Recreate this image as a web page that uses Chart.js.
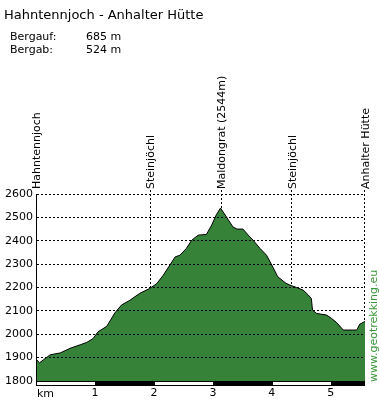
<!DOCTYPE html>
<html>
<head>
<meta charset="utf-8">
<title>Hahntennjoch - Anhalter Hütte</title>
<script src="https://cdn.jsdelivr.net/npm/chart.js@4.4.0/dist/chart.umd.min.js"></script>
<style>
body { margin: 0; background: #fff; }
canvas { display: block; }
</style>
</head>
<body>
<canvas id="perfil" width="379" height="404"></canvas>
<script>
var titulo = "Hahntennjoch - Anhalter Hütte";
var resumenNombres = ["Bergauf:", "Bergab:"];
var resumenValores = ["685 m", "524 m"];

// km / Höhe (m)
var distancia = [0, 0.06, 0.24, 0.41, 0.58, 0.75, 0.86, 0.97, 1.05, 1.20, 1.34, 1.45, 1.59, 1.76, 1.93,
    2.05, 2.16, 2.27, 2.36, 2.44, 2.55, 2.64, 2.75, 2.89, 2.98, 3.06, 3.13, 3.23, 3.34, 3.41, 3.51,
    3.60, 3.68, 3.80, 3.91, 4.00, 4.10, 4.24, 4.31, 4.42, 4.53, 4.61, 4.67, 4.69, 4.76, 4.93,
    5.01, 5.10, 5.21, 5.44, 5.49, 5.58];
var altura = [1893, 1878, 1912, 1920, 1940, 1955, 1965, 1982, 2010, 2034, 2092, 2125, 2145, 2175, 2196,
    2217, 2253, 2296, 2331, 2338, 2367, 2402, 2424, 2427, 2467, 2512, 2540, 2502, 2459, 2450, 2450,
    2424, 2403, 2367, 2338, 2296, 2246, 2218, 2210, 2200, 2189, 2170, 2153, 2103, 2089, 2082,
    2068, 2050, 2018, 2018, 2043, 2055];

var puntosNombres = ["Hahntennjoch", "Steinjöchl", "Maldongrat (2544m)", "Steinjöchl", "Anhalter Hütte"];
var puntosKm = [0, 1.93, 3.14, 4.33, 5.58];

var ticksAltura = [1800, 1900, 2000, 2100, 2200, 2300, 2400, 2500, 2600];
var ticksKm = [0, 1, 2, 3, 4, 5];
var etiquetasKm = ["km", "1", "2", "3", "4", "5"];
var webTexto = "www.geotrekking.eu";

var fuente = "'DejaVu Sans', sans-serif";

var extras = {
    id: 'extras',
    beforeDatasetsDraw: function(chart)
    {
        var ctx = chart.ctx;
        var area = chart.chartArea;
        var sx = chart.scales.x;
        ctx.save();
        ctx.strokeStyle = '#000';
        ctx.lineWidth = 1;
        ctx.setLineDash([2, 2]);
        for (var i = 1; i < puntosKm.length; i++) {
            var px = Math.round(sx.getPixelForValue(puntosKm[i])) + 0.5;
            if (px > area.right) px = area.right - 0.5;
            ctx.beginPath();
            ctx.moveTo(px, area.top - 4);
            ctx.lineTo(px, area.bottom);
            ctx.stroke();
        }
        ctx.restore();
    },
    afterDraw: function(chart)
    {
        var ctx = chart.ctx;
        var area = chart.chartArea;
        var sx = chart.scales.x;
        ctx.save();

        // titulo y resumen
        ctx.fillStyle = '#000';
        ctx.textBaseline = 'alphabetic';
        ctx.textAlign = 'left';
        ctx.font = '13px ' + fuente;
        ctx.fillText(titulo, 4, 19);
        ctx.font = '11px ' + fuente;
        for (var r = 0; r < resumenNombres.length; r++) {
            ctx.fillText(resumenNombres[r], 10, 40 + r * 13);
            ctx.fillText(resumenValores[r], 86, 40 + r * 13);
        }

        // nombres de los puntos
        for (var i = 0; i < puntosKm.length; i++) {
            var px = sx.getPixelForValue(puntosKm[i]);
            ctx.save();
            ctx.translate(px + 1.5, area.top - 5);
            ctx.rotate(-Math.PI / 2);
            ctx.textBaseline = 'middle';
            ctx.fillText(puntosNombres[i], 0, 0);
            ctx.restore();
        }

        // barra de km
        ctx.fillStyle = '#000';
        ctx.fillRect(area.left, area.bottom, area.right - area.left, 5);
        ctx.fillStyle = '#fff';
        for (var k = 0; k < ticksKm.length; k += 2) {
            var a = sx.getPixelForValue(ticksKm[k]);
            var b = sx.getPixelForValue(Math.min(ticksKm[k] + 1, distancia[distancia.length - 1]));
            ctx.fillRect(Math.round(a) + 1, area.bottom + 1, Math.round(b) - Math.round(a) - 1, 3);
        }

        ctx.fillStyle = '#000';
        ctx.textBaseline = 'middle';
        ctx.fillText(etiquetasKm[0], area.left + 1, area.bottom + 13);

        // web
        ctx.translate(374, area.bottom + 1);
        ctx.rotate(-Math.PI / 2);
        ctx.fillStyle = '#3a963a';
        ctx.textBaseline = 'middle';
        ctx.fillText(webTexto, 0, 0);
        ctx.restore();
    }
};

var puntos = [];
for (var i = 0; i < distancia.length; i++) {
    puntos.push({x: distancia[i], y: altura[i]});
}

var ctx = document.getElementById("perfil").getContext('2d');
var myChart = new Chart(ctx, {
    type: 'line',
    data: {
        datasets: [{
            data: puntos,
            fill: 'start',
            backgroundColor: '#368238',
            borderColor: '#000',
            borderWidth: 1,
            pointRadius: 0,
            tension: 0
        }]
    },
    options: {
        responsive: false,
        animation: false,
        events: [],
        layout: { padding: { top: 194, right: 14, bottom: 0, left: 0 } },
        plugins: { legend: { display: false }, tooltip: { enabled: false } },
        scales: {
            x: {
                type: 'linear',
                min: 0,
                max: distancia[distancia.length - 1],
                afterBuildTicks: function(s) { s.ticks = ticksKm.map(function(v) { return {value: v}; }); },
                afterFit: function(s) { s.height = 23; },
                grid: { display: false, drawTicks: false },
                border: { display: false },
                ticks: {
                    autoSkip: false,
                    maxRotation: 0,
                    padding: 6,
                    color: '#000',
                    font: { family: fuente, size: 11 },
                    callback: function(v, i) { return i === 0 ? '' : etiquetasKm[i]; }
                }
            },
            y: {
                min: ticksAltura[0],
                max: ticksAltura[ticksAltura.length - 1],
                afterBuildTicks: function(s) { s.ticks = ticksAltura.map(function(v) { return {value: v}; }); },
                afterFit: function(s) { s.width = 36; },
                grid: { color: '#000', lineWidth: 1, drawTicks: false, z: 1 },
                border: { display: true, color: '#000', width: 1, dash: [2, 2], z: 1 },
                ticks: {
                    padding: 3,
                    color: '#000',
                    font: { family: fuente, size: 11 },
                    callback: function(v) { return String(v); }
                }
            }
        }
    },
    plugins: [extras]
});
</script>
</body>
</html>
